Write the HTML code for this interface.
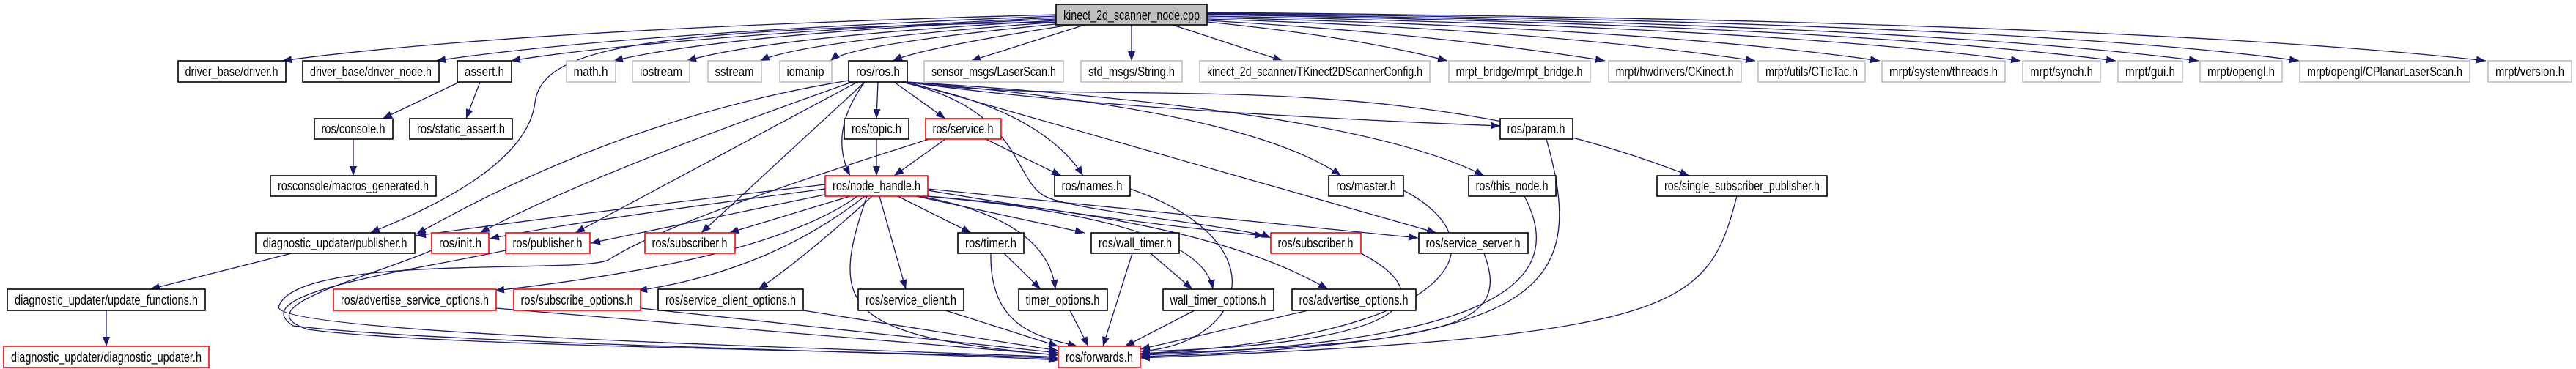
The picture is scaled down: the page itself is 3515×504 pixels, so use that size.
<!DOCTYPE html>
<html><head><meta charset="utf-8"><style>
html,body{margin:0;padding:0;background:#fff;}
svg{display:block;}
text{font-family:"Liberation Sans","DejaVu Sans",sans-serif;font-size:18px;fill:#000;}
.b{fill:#fff;stroke:#000;stroke-width:1.6;}
.g{fill:#fff;stroke:#bfbfbf;stroke-width:1.6;}
.r{fill:#fff;stroke:#ff0000;stroke-width:1.6;}
.e{fill:none;stroke:#191970;stroke-width:1.3;marker-end:url(#a);}
</style></head><body>
<svg width="3515" height="504" viewBox="0 0 3515 504" xmlns="http://www.w3.org/2000/svg">
<defs><marker id="a" markerUnits="userSpaceOnUse" markerWidth="14" markerHeight="10" refX="13" refY="5" orient="auto"><path d="M0,0 L13,5 L0,10 z" fill="#191970"/></marker></defs>
<g>
<path class="e" d="M1441 20 Q700 40 385 83"/>
<path class="e" d="M1441 22 Q850 45 595 83"/>
<path class="e" d="M1441 24 Q900 50 697 83"/>
<path class="e" d="M1441 26 Q1000 45 837 83"/>
<path class="e" d="M1441 28 Q1050 50 937 83"/>
<path class="e" d="M1445 30 Q1100 55 1037 83"/>
<path class="e" d="M1450 32 Q1160 60 1133 83"/>
<path class="e" d="M1460 34 Q1260 65 1218 83"/>
<path class="e" d="M1480 34 L1325 83"/>
<path class="e" d="M1544 34 L1544 83"/>
<path class="e" d="M1600 34 L1750 83"/>
<path class="e" d="M1647 30 Q1850 50 1975 83"/>
<path class="e" d="M1647 28 Q1950 45 2190 83"/>
<path class="e" d="M1647 26 Q2100 40 2395 83"/>
<path class="e" d="M1647 24 Q2250 38 2565 83"/>
<path class="e" d="M1647 22 Q2400 36 2757 83"/>
<path class="e" d="M1647 20 Q2500 34 2887 83"/>
<path class="e" d="M1647 19 Q2600 32 3000 83"/>
<path class="e" d="M1647 18 Q2750 30 3137 83"/>
<path class="e" d="M1647 17 Q2900 28 3392 83"/>
<path class="e" d="M1441 30 C900 40 740 60 730 140 S600 280 505 318"/>
<path class="e" d="M627 112 L522 162"/>
<path class="e" d="M655 112 L636 162"/>
<path class="e" d="M482 190 L482 240"/>
<path class="e" d="M398 346 L205 395"/>
<path class="e" d="M145 424 L145 473"/>
<path class="e" d="M1198 112 L1196 162"/>
<path class="e" d="M1220 112 L1290 162"/>
<path class="e" d="M1180 112 Q1130 180 1160 240"/>
<path class="e" d="M1196 190 L1196 240"/>
<path class="e" d="M1290 190 L1220 240"/>
<path class="e" d="M1345 190 L1448 240"/>
<path class="e" d="M1268 190 C950 290 870 330 830 355 C790 375 400 345 380 420 C390 460 1300 480 1444 488"/>
<path class="e" d="M1238 114 Q1420 150 1478 240"/>
<path class="e" d="M1238 112 Q1700 150 1830 240"/>
<path class="e" d="M1238 112 Q1850 150 2025 240"/>
<path class="e" d="M1238 112 C1500 150 1900 80 2305 240"/>
<path class="e" d="M1238 112 Q1500 150 2047 172"/>
<path class="e" d="M1238 112 L1960 318"/>
<path class="e" d="M1230 112 C1400 150 1380 250 1430 270 S1700 310 1734 325"/>
<path class="e" d="M1180 112 L957 318"/>
<path class="e" d="M1170 112 L785 318"/>
<path class="e" d="M1163 112 Q800 240 655 318"/>
<path class="e" d="M1158 110 Q850 160 568 320"/>
<path class="e" d="M1126 252 Q800 290 568 322"/>
<path class="e" d="M1126 258 Q800 300 668 326"/>
<path class="e" d="M1130 265 L806 332"/>
<path class="e" d="M1160 268 L995 318"/>
<path class="e" d="M1225 268 L1325 318"/>
<path class="e" d="M1250 268 L1480 318"/>
<path class="e" d="M1266 260 Q1500 300 1725 322"/>
<path class="e" d="M1266 258 Q1600 290 1935 325"/>
<path class="e" d="M1170 268 Q1050 355 675 397"/>
<path class="e" d="M1180 268 Q1050 370 870 397"/>
<path class="e" d="M1190 268 Q1100 350 1035 395"/>
<path class="e" d="M1200 268 L1236 395"/>
<path class="e" d="M1255 268 Q1430 300 1440 395"/>
<path class="e" d="M1262 268 Q1640 300 1655 395"/>
<path class="e" d="M1266 268 Q1650 300 1812 395"/>
<path class="e" d="M1183 268 C1130 420 1150 460 1444 485"/>
<path class="e" d="M1370 346 L1420 395"/>
<path class="e" d="M1352 346 C1350 450 1420 460 1470 473"/>
<path class="e" d="M1570 346 L1627 395"/>
<path class="e" d="M1545 346 L1505 473"/>
<path class="e" d="M1290 424 L1444 473"/>
<path class="e" d="M1460 424 L1485 473"/>
<path class="e" d="M1630 424 L1535 473"/>
<path class="e" d="M1785 424 L1556 477"/>
<path class="e" d="M677 421 L1444 485"/>
<path class="e" d="M874 421 L1444 482"/>
<path class="e" d="M1096 424 L1444 479"/>
<path class="e" d="M589 342 C500 380 330 420 420 450 C600 475 1300 480 1444 490"/>
<path class="e" d="M690 342 C560 370 330 400 400 445 C600 470 1300 482 1444 492"/>
<path class="e" d="M1542 258 C1750 330 1700 470 1556 480"/>
<path class="e" d="M1915 260 C2050 330 2000 460 1556 483"/>
<path class="e" d="M2080 268 C2150 400 2000 470 1556 485"/>
<path class="e" d="M2110 190 C2170 400 2100 470 1556 487"/>
<path class="e" d="M2370 268 C2330 420 2300 460 1556 489"/>
<path class="e" d="M1857 346 C1960 400 1950 470 1556 480"/>
<path class="e" d="M2025 346 C2060 440 2000 470 1556 483"/>
</g>
<g>
<rect x="1441" y="6" width="206" height="28" fill="#bfbfbf" stroke="#000" stroke-width="1.6"/><text x="1544" y="27" text-anchor="middle" textLength="186" lengthAdjust="spacingAndGlyphs">kinect_2d_scanner_node.cpp</text>

<rect class="b" x="243" y="83" width="147" height="29"/><text x="316" y="104" text-anchor="middle" textLength="127" lengthAdjust="spacingAndGlyphs">driver_base/driver.h</text>
<rect class="b" x="413" y="83" width="186" height="29"/><text x="506" y="104" text-anchor="middle" textLength="166" lengthAdjust="spacingAndGlyphs">driver_base/driver_node.h</text>
<rect class="b" x="624" y="83" width="74" height="29"/><text x="661" y="104" text-anchor="middle" textLength="54" lengthAdjust="spacingAndGlyphs">assert.h</text>
<rect class="g" x="773" y="83" width="67" height="29"/><text x="806" y="104" text-anchor="middle" textLength="47" lengthAdjust="spacingAndGlyphs">math.h</text>
<rect class="g" x="863" y="83" width="78" height="29"/><text x="902" y="104" text-anchor="middle" textLength="58" lengthAdjust="spacingAndGlyphs">iostream</text>
<rect class="g" x="966" y="83" width="73" height="29"/><text x="1002" y="104" text-anchor="middle" textLength="53" lengthAdjust="spacingAndGlyphs">sstream</text>
<rect class="g" x="1064" y="83" width="71" height="29"/><text x="1099" y="104" text-anchor="middle" textLength="51" lengthAdjust="spacingAndGlyphs">iomanip</text>
<rect class="b" x="1158" y="83" width="80" height="29"/><text x="1198" y="104" text-anchor="middle" textLength="60" lengthAdjust="spacingAndGlyphs">ros/ros.h</text>
<rect class="g" x="1261" y="83" width="190" height="29"/><text x="1356" y="104" text-anchor="middle" textLength="170" lengthAdjust="spacingAndGlyphs">sensor_msgs/LaserScan.h</text>
<rect class="g" x="1475" y="83" width="138" height="29"/><text x="1544" y="104" text-anchor="middle" textLength="118" lengthAdjust="spacingAndGlyphs">std_msgs/String.h</text>
<rect class="g" x="1637" y="83" width="314" height="29"/><text x="1794" y="104" text-anchor="middle" textLength="294" lengthAdjust="spacingAndGlyphs">kinect_2d_scanner/TKinect2DScannerConfig.h</text>
<rect class="g" x="1977" y="83" width="193" height="29"/><text x="2073" y="104" text-anchor="middle" textLength="173" lengthAdjust="spacingAndGlyphs">mrpt_bridge/mrpt_bridge.h</text>
<rect class="g" x="2195" y="83" width="181" height="29"/><text x="2285" y="104" text-anchor="middle" textLength="161" lengthAdjust="spacingAndGlyphs">mrpt/hwdrivers/CKinect.h</text>
<rect class="g" x="2399" y="83" width="146" height="29"/><text x="2472" y="104" text-anchor="middle" textLength="126" lengthAdjust="spacingAndGlyphs">mrpt/utils/CTicTac.h</text>
<rect class="g" x="2568" y="83" width="168" height="29"/><text x="2652" y="104" text-anchor="middle" textLength="148" lengthAdjust="spacingAndGlyphs">mrpt/system/threads.h</text>
<rect class="g" x="2760" y="83" width="106" height="29"/><text x="2813" y="104" text-anchor="middle" textLength="86" lengthAdjust="spacingAndGlyphs">mrpt/synch.h</text>
<rect class="g" x="2890" y="83" width="88" height="29"/><text x="2934" y="104" text-anchor="middle" textLength="68" lengthAdjust="spacingAndGlyphs">mrpt/gui.h</text>
<rect class="g" x="3002" y="83" width="112" height="29"/><text x="3058" y="104" text-anchor="middle" textLength="92" lengthAdjust="spacingAndGlyphs">mrpt/opengl.h</text>
<rect class="g" x="3138" y="83" width="232" height="29"/><text x="3254" y="104" text-anchor="middle" textLength="212" lengthAdjust="spacingAndGlyphs">mrpt/opengl/CPlanarLaserScan.h</text>
<rect class="g" x="3395" y="83" width="114" height="29"/><text x="3452" y="104" text-anchor="middle" textLength="94" lengthAdjust="spacingAndGlyphs">mrpt/version.h</text>

<rect class="b" x="429" y="162" width="107" height="28"/><text x="482" y="182" text-anchor="middle" textLength="87" lengthAdjust="spacingAndGlyphs">ros/console.h</text>
<rect class="b" x="559" y="162" width="140" height="28"/><text x="629" y="182" text-anchor="middle" textLength="120" lengthAdjust="spacingAndGlyphs">ros/static_assert.h</text>
<rect class="b" x="1152" y="162" width="88" height="28"/><text x="1196" y="182" text-anchor="middle" textLength="68" lengthAdjust="spacingAndGlyphs">ros/topic.h</text>
<rect class="r" x="1263" y="162" width="103" height="28"/><text x="1314" y="182" text-anchor="middle" textLength="83" lengthAdjust="spacingAndGlyphs">ros/service.h</text>
<rect class="b" x="2047" y="162" width="99" height="28"/><text x="2096" y="182" text-anchor="middle" textLength="79" lengthAdjust="spacingAndGlyphs">ros/param.h</text>

<rect class="b" x="369" y="240" width="226" height="28"/><text x="482" y="260" text-anchor="middle" textLength="206" lengthAdjust="spacingAndGlyphs">rosconsole/macros_generated.h</text>
<rect class="r" x="1126" y="240" width="140" height="28"/><text x="1196" y="260" text-anchor="middle" textLength="120" lengthAdjust="spacingAndGlyphs">ros/node_handle.h</text>
<rect class="b" x="1439" y="240" width="103" height="28"/><text x="1490" y="260" text-anchor="middle" textLength="83" lengthAdjust="spacingAndGlyphs">ros/names.h</text>
<rect class="b" x="1813" y="240" width="102" height="28"/><text x="1864" y="260" text-anchor="middle" textLength="82" lengthAdjust="spacingAndGlyphs">ros/master.h</text>
<rect class="b" x="2004" y="240" width="119" height="28"/><text x="2063" y="260" text-anchor="middle" textLength="99" lengthAdjust="spacingAndGlyphs">ros/this_node.h</text>
<rect class="b" x="2261" y="240" width="232" height="28"/><text x="2377" y="260" text-anchor="middle" textLength="212" lengthAdjust="spacingAndGlyphs">ros/single_subscriber_publisher.h</text>

<rect class="b" x="349" y="318" width="217" height="28"/><text x="457" y="338" text-anchor="middle" textLength="197" lengthAdjust="spacingAndGlyphs">diagnostic_updater/publisher.h</text>
<rect class="r" x="589" y="318" width="78" height="28"/><text x="628" y="338" text-anchor="middle" textLength="58" lengthAdjust="spacingAndGlyphs">ros/init.h</text>
<rect class="r" x="690" y="318" width="115" height="28"/><text x="747" y="338" text-anchor="middle" textLength="95" lengthAdjust="spacingAndGlyphs">ros/publisher.h</text>
<rect class="r" x="880" y="318" width="123" height="28"/><text x="941" y="338" text-anchor="middle" textLength="103" lengthAdjust="spacingAndGlyphs">ros/subscriber.h</text>
<rect class="b" x="1307" y="318" width="90" height="28"/><text x="1352" y="338" text-anchor="middle" textLength="70" lengthAdjust="spacingAndGlyphs">ros/timer.h</text>
<rect class="b" x="1489" y="318" width="120" height="28"/><text x="1549" y="338" text-anchor="middle" textLength="100" lengthAdjust="spacingAndGlyphs">ros/wall_timer.h</text>
<rect class="r" x="1734" y="318" width="123" height="28"/><text x="1795" y="338" text-anchor="middle" textLength="103" lengthAdjust="spacingAndGlyphs">ros/subscriber.h</text>
<rect class="b" x="1936" y="318" width="149" height="28"/><text x="2010" y="338" text-anchor="middle" textLength="129" lengthAdjust="spacingAndGlyphs">ros/service_server.h</text>

<rect class="b" x="10" y="395" width="270" height="29"/><text x="145" y="416" text-anchor="middle" textLength="250" lengthAdjust="spacingAndGlyphs">diagnostic_updater/update_functions.h</text>
<rect class="r" x="455" y="395" width="222" height="29"/><text x="566" y="416" text-anchor="middle" textLength="202" lengthAdjust="spacingAndGlyphs">ros/advertise_service_options.h</text>
<rect class="r" x="701" y="395" width="173" height="29"/><text x="787" y="416" text-anchor="middle" textLength="153" lengthAdjust="spacingAndGlyphs">ros/subscribe_options.h</text>
<rect class="b" x="898" y="395" width="198" height="29"/><text x="997" y="416" text-anchor="middle" textLength="178" lengthAdjust="spacingAndGlyphs">ros/service_client_options.h</text>
<rect class="b" x="1171" y="395" width="144" height="29"/><text x="1243" y="416" text-anchor="middle" textLength="124" lengthAdjust="spacingAndGlyphs">ros/service_client.h</text>
<rect class="b" x="1390" y="395" width="121" height="29"/><text x="1450" y="416" text-anchor="middle" textLength="101" lengthAdjust="spacingAndGlyphs">timer_options.h</text>
<rect class="b" x="1587" y="395" width="151" height="29"/><text x="1662" y="416" text-anchor="middle" textLength="131" lengthAdjust="spacingAndGlyphs">wall_timer_options.h</text>
<rect class="b" x="1763" y="395" width="169" height="29"/><text x="1847" y="416" text-anchor="middle" textLength="149" lengthAdjust="spacingAndGlyphs">ros/advertise_options.h</text>

<rect class="r" x="5" y="473" width="280" height="29"/><text x="145" y="494" text-anchor="middle" textLength="260" lengthAdjust="spacingAndGlyphs">diagnostic_updater/diagnostic_updater.h</text>
<rect class="r" x="1444" y="473" width="112" height="29"/><text x="1500" y="494" text-anchor="middle" textLength="92" lengthAdjust="spacingAndGlyphs">ros/forwards.h</text>
</g>
</svg>
</body></html>
